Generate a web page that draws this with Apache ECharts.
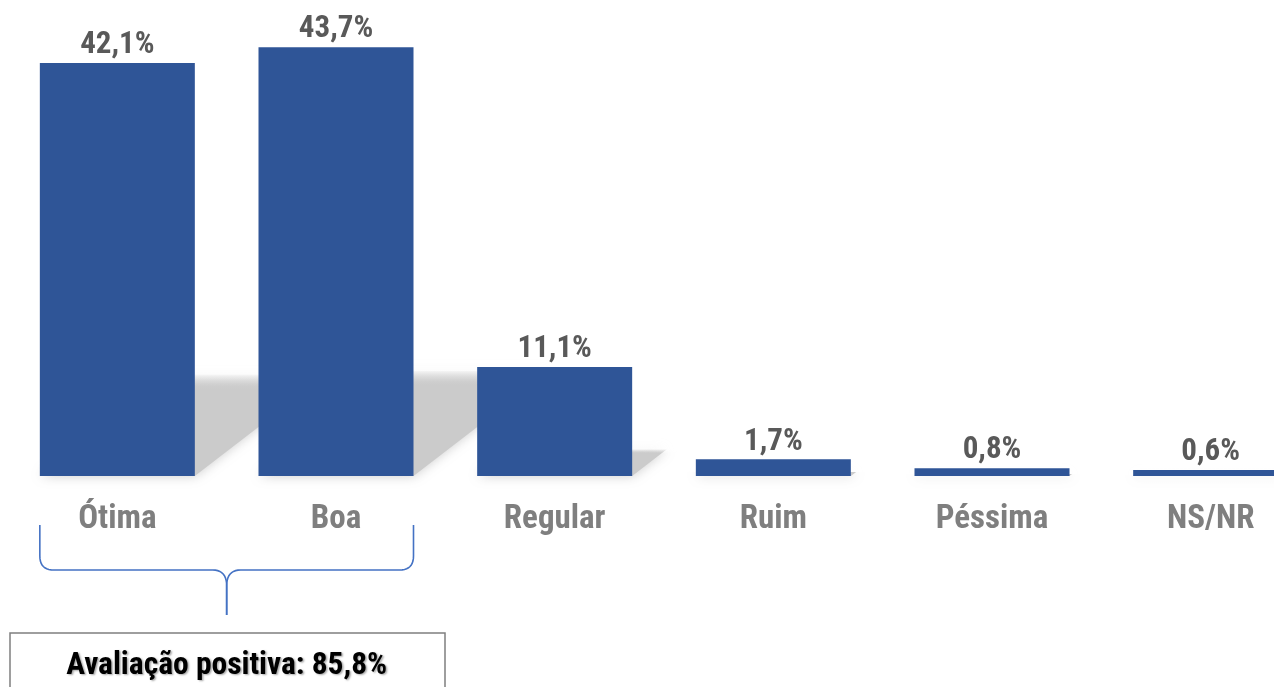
<!DOCTYPE html>
<html>
<head>
<meta charset="utf-8">
<script src="https://cdn.jsdelivr.net/npm/echarts@6/dist/echarts.min.js"></script>
<style>
  html, body { margin: 0; padding: 0; background: #fff; overflow: hidden; }
  /* the last bar runs past the right edge of the picture */
  #main { width: 1330px; height: 687px; }
</style>
</head>
<body>
<div id="main"></div>
<script>
const categories = ["Ótima", "Boa", "Regular", "Ruim", "Péssima", "NS/NR"];
const values = [42.1, 43.7, 11.1, 1.7, 0.8, 0.6];
const positiveGroup = [0, 1]; // Ótima + Boa

const narrow = '"Roboto Condensed", "Arial Narrow", "Liberation Sans", sans-serif';
const fmt = (v) => v.toFixed(1).replace(".", ",") + "%";

const myChart = echarts.init(document.getElementById("main"));

// perspective shadow behind each bar (squashed + skewed to the right)
function renderShadow(params, api) {
  const idx = api.value(0);
  const base = api.coord([idx, 0]);
  const top = api.coord([idx, api.value(1)]);
  const w = 155;
  const h = (base[1] - top[1]) * 0.245;
  const s = h * 1.3;
  const x0 = base[0] - w / 2;
  const y0 = base[1];
  return {
    type: "polygon",
    shape: {
      points: [
        [x0, y0],
        [x0 + w, y0],
        [x0 + w + s, y0 - h],
        [x0 + s, y0 - h],
      ],
    },
    style: {
      fill: new echarts.graphic.LinearGradient(0, 0, 0, 1, [
        { offset: 0, color: "rgba(205,205,205,0.15)" },
        { offset: 0.14, color: "rgba(203,203,203,1)" },
        { offset: 1, color: "rgba(203,203,203,1)" },
      ]),
      shadowBlur: 12,
      shadowColor: "rgba(200,200,200,0.9)",
    },
  };
}

const option = {
  animation: false,
  grid: { left: 8, right: 10, top: 5, bottom: 211 },
  xAxis: {
    type: "category",
    data: categories,
    axisLine: { show: false },
    axisTick: { show: false },
    axisLabel: {
      color: "#7f7f7f",
      fontFamily: narrow,
      fontWeight: "bold",
      fontSize: 33,
      margin: 27,
      interval: 0,
    },
  },
  yAxis: { type: "value", min: 0, max: 48, show: false },
  series: [
    {
      type: "custom",
      renderItem: renderShadow,
      data: values.map((v, i) => [i, v]),
      z: 1,
      silent: true,
    },
    {
      type: "bar",
      data: values,
      barWidth: 155,
      z: 2,
      itemStyle: { color: "#2f5597" },
      label: {
        show: true,
        position: "top",
        distance: 2,
        color: "#595959",
        fontFamily: narrow,
        fontWeight: "bold",
        fontSize: 31,
        formatter: (p) => fmt(p.value),
      },
    },
  ],
};
myChart.setOption(option);

// brace + summary box under Ótima/Boa
const c0 = myChart.convertToPixel({ xAxisIndex: 0 }, positiveGroup[0]);
const c1 = myChart.convertToPixel({ xAxisIndex: 0 }, positiveGroup[1]);
const bx0 = c0 - 77.5;
const bx1 = c1 + 77.5;
const mid = (bx0 + bx1) / 2;
const total = positiveGroup.reduce((a, i) => a + values[i], 0);

function quad(p0, p1, p2, n) {
  const pts = [];
  for (let k = 0; k <= n; k++) {
    const t = k / n;
    pts.push([
      (1 - t) * (1 - t) * p0[0] + 2 * (1 - t) * t * p1[0] + t * t * p2[0],
      (1 - t) * (1 - t) * p0[1] + 2 * (1 - t) * t * p1[1] + t * t * p2[1],
    ]);
  }
  return pts;
}
function braceHalf(xe, dir) {
  return [[xe, 525]]
    .concat(quad([xe, 556], [xe, 570], [xe + dir * 14, 570], 10))
    .concat(quad([mid - dir * 14, 570], [mid, 570], [mid, 586], 10))
    .concat([[mid, 615]]);
}
const braceStyle = { stroke: "#4472c4", lineWidth: 1.6, fill: null };

myChart.setOption({
  graphic: [
    { type: "polyline", shape: { points: braceHalf(bx0, 1) }, style: braceStyle },
    { type: "polyline", shape: { points: braceHalf(bx1, -1) }, style: braceStyle },
    {
      type: "rect",
      shape: { x: 10, y: 633, width: 435, height: 80 },
      style: { fill: "#fff", stroke: "#7f7f7f", lineWidth: 1.5 },
    },
    {
      type: "text",
      x: mid,
      y: 666,
      style: {
        text: "Avaliação positiva: " + fmt(total),
        fill: "#000",
        font: "bold 31.5px " + narrow,
        textAlign: "center",
        textVerticalAlign: "middle",
        textShadowColor: "rgba(0,0,0,0.35)",
        textShadowOffsetX: 1.5,
        textShadowOffsetY: 1.5,
        textShadowBlur: 2,
      },
    },
  ],
});
</script>
</body>
</html>
